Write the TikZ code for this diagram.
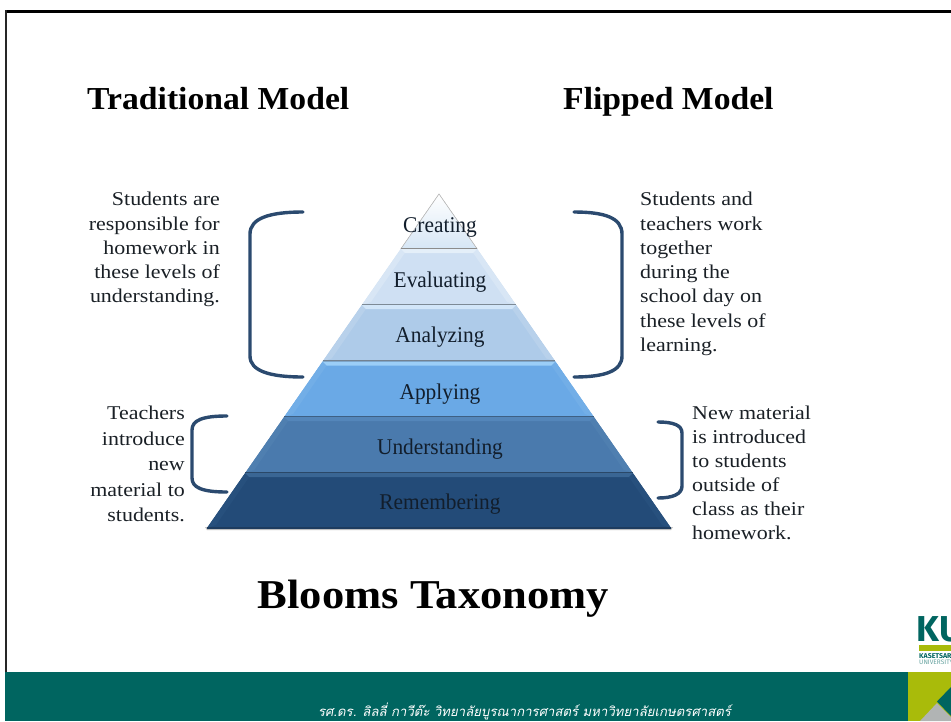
\documentclass[tikz,border=0pt]{standalone}
\usepackage{fontspec}
\setmainfont{Liberation Serif}
\newfontfamily\thaifont[Script=Thai,FakeSlant=0.2]{Loma}
\newfontfamily\logofont{Fira Sans}
\newfontfamily\bodyfont[FakeStretch=1.125]{Liberation Serif}
\newfontfamily\headfont[FakeStretch=1.052]{Liberation Serif}
\newfontfamily\titlefont[FakeStretch=1.087]{Liberation Serif}
\newfontfamily\labelfont[FakeStretch=0.95]{Liberation Serif}
\usetikzlibrary{calc}
\definecolor{footteal}{HTML}{006560}
\definecolor{kulime}{HTML}{A9BB0A}
\definecolor{kugrey}{HTML}{B1B4B4}
\definecolor{bracketblue}{HTML}{2B4A6F}
\definecolor{labelink}{HTML}{121E2C}
\definecolor{bodyink}{HTML}{1A2026}
\tikzset{
  x=1pt,y=-1pt,
  heading/.style={font=\headfont\fontsize{32}{36}\selectfont\bfseries,text=black,inner sep=0,anchor=base west},
  body/.style={text=bodyink,inner sep=0},
  layerlabel/.style={font=\labelfont\fontsize{22.500}{24}\selectfont,text=labelink,inner sep=0,anchor=base},
  bracketline/.style={draw=bracketblue,line width=3.4pt,line cap=round,line join=round},
}
% \pyrlayer{top y}{bottom y}{face}{highlight}{side bevel}{separator}
\newcommand{\pyrlayer}[6]{%
  \pgfmathsetmacro{\wt}{0.6946*(#1-194)}
  \pgfmathsetmacro{\wb}{0.6946*(#2-194)}
  \fill[#3] (439-\wt,#1) -- (439+\wt,#1) -- (439+\wb,#2) -- (439-\wb,#2) -- cycle;
  \fill[#5] (439-\wt,#1) -- (439-\wt+4,#1+4) -- (439-\wb+9,#2-3) -- (439-\wb,#2) -- cycle;
  \fill[#5] (439+\wt,#1) -- (439+\wt-4,#1+4) -- (439+\wb-9,#2-3) -- (439+\wb,#2) -- cycle;
  \fill[#4] (439-\wt,#1) -- (439+\wt,#1) -- (439+\wt-4,#1+4) -- (439-\wt+4,#1+4) -- cycle;
  \draw[#6,line width=2pt] (439-\wb,#2-.5) -- (439+\wb,#2-.5);
}
\begin{document}
\begin{tikzpicture}
\path[use as bounding box] (0,0) rectangle (951,721);
\clip (0,0) rectangle (951,721);
\fill[white] (0,0) rectangle (951,721);
% slide frame
\fill[black] (5,10) rectangle (951,13);
\fill[black!85] (5,10) rectangle (7,672);
% footer
\fill[footteal] (5,672) rectangle (951,721);
\fill[kulime] (908,672) rectangle (951,721);
\fill[footteal] (937,701.500) -- (951,687) -- (951,716) -- cycle;
\fill[kugrey] (937,703) -- (920,721) -- (951,721) -- (951,717) -- cycle;
\node[font=\thaifont\fontsize{13.200}{16}\selectfont,text=white,inner sep=0] (credit) at (524.500,711.500)
  {รศ.ดร. ลิลลี่ กาวีต๊ะ วิทยาลัยบูรณาการศาสตร์ มหาวิทยาลัยเกษตรศาสตร์};
% logo
\node[font=\logofont\fontsize{36}{36}\selectfont\bfseries,text=footteal,inner sep=0,anchor=base west] (ku) at (916.500,641) {KU};
\fill[kulime] (919,645) rectangle (951,651);
\node[font=\logofont\fontsize{7}{7}\selectfont\bfseries,text=footteal,inner sep=0,anchor=base west] (kaset) at (919,658.500) {KASETSART};
\node[font=\logofont\fontsize{6.500}{7}\selectfont,text=footteal!60,inner sep=0,anchor=base west] (univ) at (919,664.800) {UNIVERSITY};
% headings
\node[heading] (trad) at (87,109) {Traditional Model};
\node[heading] (flip) at (563,109) {Flipped Model};
\node[inner sep=0,anchor=base,font=\titlefont\fontsize{41}{44}\selectfont\bfseries,text=black] (bloom) at (433.500,608) {Blooms Taxonomy};
% pyramid
\fill[black!25] (205,527) -- (673,527) -- (671,530) -- (207,530) -- cycle;
\fill[top color=white,bottom color={rgb,255:red,214;green,230;blue,245}] (439,194) -- (439+38.200,249) -- (439-38.200,249) -- cycle;
\draw[black!25,line width=.6pt] (439-38.200,249) -- (439,194) -- (439+38.200,249);
\draw[black!45,line width=2pt] (439-38.200,248.500) -- (439+38.200,248.500);
\pyrlayer{249}{305}{fill={rgb,255:red,207;green,224;blue,243}}{fill={rgb,255:red,228;green,239;blue,249}}{fill={rgb,255:red,216;green,230;blue,245}}{draw={rgb,255:red,125;green,138;blue,150}}
\pyrlayer{305}{361.500}{fill={rgb,255:red,174;green,203;blue,233}}{fill={rgb,255:red,210;green,230;blue,249}}{fill={rgb,255:red,184;green,209;blue,235}}{draw={rgb,255:red,115;green,130;blue,145}}
\pyrlayer{361.500}{417}{fill={rgb,255:red,106;green,169;blue,230}}{fill={rgb,255:red,155;green,206;blue,247}}{fill={rgb,255:red,114;green,174;blue,231}}{draw={rgb,255:red,62;green,96;blue,132}}
\pyrlayer{417}{473}{fill={rgb,255:red,74;green,122;blue,173}}{fill={rgb,255:red,84;green,134;blue,186}}{fill={rgb,255:red,79;green,127;blue,176}}{draw={rgb,255:red,42;green,72;blue,104}}
\pyrlayer{473}{528}{fill={rgb,255:red,35;green,75;blue,120}}{fill={rgb,255:red,58;green,102;blue,148}}{fill={rgb,255:red,39;green,80;blue,125}}{draw={rgb,255:red,30;green,60;blue,95}}
% pyramid labels
\node[layerlabel] (creating) at (440,232) {Creating};
\node[layerlabel] (evaluating) at (440,287) {Evaluating};
\node[layerlabel] (analyzing) at (440,342) {Analyzing};
\node[layerlabel] (applying) at (440,399) {Applying};
\node[layerlabel] (understanding) at (440,454) {Understanding};
\node[layerlabel] (remembering) at (440,509) {Remembering};
% brackets
\draw[bracketline] (303,212) .. controls (270,212) and (250,218) .. (250,234) -- (250,356) .. controls (250,371) and (270,377) .. (303,377);
\draw[bracketline] (574,212) .. controls (605,212) and (622,218) .. (622,234) -- (622,356) .. controls (622,371) and (605,377) .. (574,377);
\draw[bracketline] (227,416) .. controls (203,416) and (192,420) .. (192,430) -- (192,478) .. controls (192,488) and (203,492) .. (227,492);
\draw[bracketline] (658,422) .. controls (673,422) and (682,425) .. (682,433) -- (682,486) .. controls (682,494) and (673,498) .. (658,498);
% side texts
\node[body,align=right,anchor=north east,font=\bodyfont\fontsize{19.500}{24.300}\selectfont] (tl) at (220,192) {Students are\\responsible for\\homework in\\these levels of\\understanding.};
\node[body,align=left,anchor=north west,font=\bodyfont\fontsize{19.500}{24.300}\selectfont] (tr) at (640,192) {Students and\\teachers work\\together\\during the\\school day on\\these levels of\\learning.};
\node[body,align=right,anchor=north east,font=\bodyfont\fontsize{19.500}{25.500}\selectfont] (bl) at (185,406) {Teachers\\introduce\\new\\material to\\students.};
\node[body,align=left,anchor=north west,font=\bodyfont\fontsize{19.500}{24}\selectfont] (br) at (692,406) {New material\\is introduced\\to students\\outside of\\class as their\\homework.};
\end{tikzpicture}
\end{document}
